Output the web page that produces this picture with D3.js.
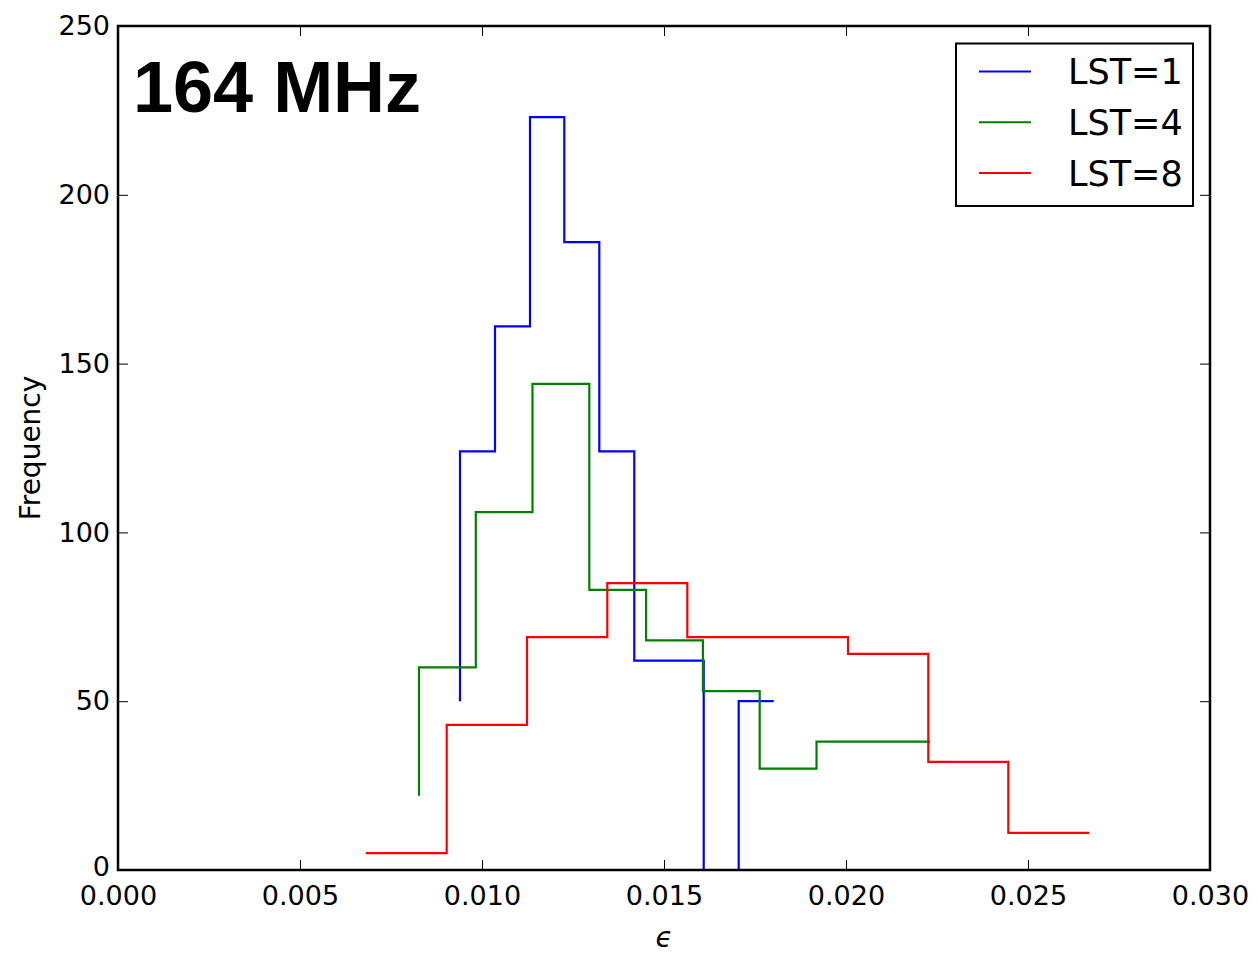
<!DOCTYPE html>
<html>
<head>
<meta charset="utf-8">
<script src="https://cdn.jsdelivr.net/npm/d3@7"></script>
<style>
  html, body { margin: 0; padding: 0; background: #fff; }
  svg { display: block; }
</style>
</head>
<body>
<svg id="chart" width="1258" height="954"></svg>
<script>
// Histogram step outlines (bin positions in epsilon, counts per step)
const edgesLST1 = [0.009396, 0.010357, 0.011319, 0.012261, 0.013223, 0.014184, 0.015135, 0.016091, 0.017052, 0.018014];
const countsLST1 = [50, 124, 161, 223, 186, 124, 62, 62, 0, 50];

const edgesLST4 = [0.008269, 0.009830, 0.011387, 0.012948, 0.014508, 0.016069, 0.017629, 0.019190, 0.020750, 0.022308];
const countsLST4 = [22, 60, 106, 144, 83, 68, 53, 30, 38, 38];

const edgesLST8 = [0.006805, 0.009030, 0.011236, 0.013442, 0.015640, 0.017846, 0.020055, 0.022261, 0.024459, 0.026684];
const countsLST8 = [5, 5, 43, 69, 85, 69, 69, 64, 32, 11];

const seriesNames = ["LST=1", "LST=4", "LST=8"];
const seriesColors = ["#0000ff", "#008000", "#ff0000"];

const xTicks = [0, 0.005, 0.010, 0.015, 0.020, 0.025, 0.030];
const yTicks = [0, 50, 100, 150, 200, 250];

const titleText = "164 MHz";
const xLabel = "\u03F5";
const yLabel = "Frequency";

const series = [
  { name: seriesNames[0], color: seriesColors[0], x: edgesLST1, y: countsLST1 },
  { name: seriesNames[1], color: seriesColors[1], x: edgesLST4, y: countsLST4 },
  { name: seriesNames[2], color: seriesColors[2], x: edgesLST8, y: countsLST8 }
];

const baseFont = "'DejaVu Sans', sans-serif";
const svg = d3.select("#chart");
const plotLeft = 118, plotRight = 1210, plotTop = 26, plotBottom = 870;

const x = d3.scaleLinear().domain([0, 0.03]).range([plotLeft, plotRight]);
const y = d3.scaleLinear().domain([0, 250]).range([plotBottom, plotTop]);

// Step lines
const line = d3.line()
  .x(d => x(d[0]))
  .y(d => y(d[1]))
  .curve(d3.curveStepBefore);

const plot = svg.append("g");
series.forEach(s => {
  plot.append("path")
    .attr("d", line(s.x.map((v, i) => [v, s.y[i]])))
    .attr("fill", "none")
    .attr("stroke", s.color)
    .attr("stroke-width", 2.2)
    .attr("stroke-linejoin", "miter");
});

// Axes with inward ticks on all four sides
const tickLen = 10;
const axB = svg.append("g").attr("transform", `translate(0,${plotBottom})`)
  .call(d3.axisBottom(x).tickValues(xTicks).tickFormat(d3.format(".3f")).tickSizeInner(-tickLen).tickSizeOuter(0).tickPadding(16));
const axT = svg.append("g").attr("transform", `translate(0,${plotTop})`)
  .call(d3.axisTop(x).tickValues(xTicks).tickFormat("").tickSizeInner(-tickLen).tickSizeOuter(0));
const axL = svg.append("g").attr("transform", `translate(${plotLeft},0)`)
  .call(d3.axisLeft(y).tickValues(yTicks).tickFormat(d3.format("d")).tickSizeInner(-tickLen).tickSizeOuter(0).tickPadding(8));
const axR = svg.append("g").attr("transform", `translate(${plotRight},0)`)
  .call(d3.axisRight(y).tickValues(yTicks).tickFormat("").tickSizeInner(-tickLen).tickSizeOuter(0));

[axB, axT, axL, axR].forEach(g => {
  g.select(".domain").remove();
  g.selectAll(".tick line").attr("stroke", "#000").attr("stroke-width", 1);
  g.selectAll("text").attr("font-family", baseFont).attr("font-size", 27).attr("fill", "#000");
});
axL.selectAll(".tick").filter(d => d === 0).select("text").attr("dy", "0.2em");

// Frame
svg.append("rect")
  .attr("x", plotLeft).attr("y", plotTop)
  .attr("width", plotRight - plotLeft).attr("height", plotBottom - plotTop)
  .attr("fill", "none").attr("stroke", "#000").attr("stroke-width", 2.5);

// Axis labels
svg.append("text")
  .attr("x", (plotLeft + plotRight) / 2).attr("y", 947)
  .attr("text-anchor", "middle")
  .attr("font-family", baseFont)
  .attr("font-size", 28).attr("font-style", "italic")
  .text(xLabel);

svg.append("text")
  .attr("transform", `translate(40,${(plotTop + plotBottom) / 2}) rotate(-90)`)
  .attr("text-anchor", "middle")
  .attr("font-family", baseFont)
  .attr("font-size", 28)
  .text(yLabel);

// Title inside the axes
svg.append("text")
  .attr("x", 133).attr("y", 112)
  .attr("font-family", "'Liberation Sans', Arial, sans-serif")
  .attr("font-weight", "bold")
  .attr("font-size", 72)
  .text(titleText);

// Legend
const legend = svg.append("g");
legend.append("rect")
  .attr("x", 956).attr("y", 43.5)
  .attr("width", 237).attr("height", 162.5)
  .attr("fill", "#fff").attr("stroke", "#000").attr("stroke-width", 2);
series.forEach((s, i) => {
  const cy = 71.5 + i * 50.7;
  legend.append("line")
    .attr("x1", 979).attr("x2", 1031)
    .attr("y1", cy).attr("y2", cy)
    .attr("stroke", s.color).attr("stroke-width", 2);
  legend.append("text")
    .attr("x", 1068).attr("y", cy + 12.8)
    .attr("font-family", baseFont)
    .attr("font-size", 35)
    .text(s.name);
});
</script>
</body>
</html>
